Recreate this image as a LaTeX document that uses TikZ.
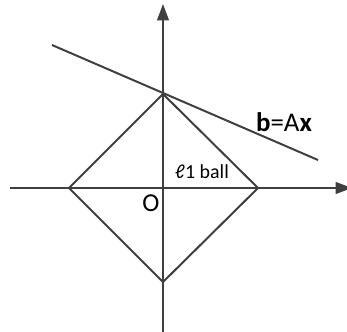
\documentclass[tikz,border=0pt]{standalone}
\usepackage{fontspec}
\setmainfont{Carlito}
\usetikzlibrary{arrows.meta}
\definecolor{LineGray}{HTML}{3F3F3F}

\begin{document}
\begin{tikzpicture}[
    x=0.03cm, y=-0.03cm,
    axis/.style={draw=LineGray,line width=1.7pt,-{Triangle[length=14pt,width=10pt]}},
    edge/.style={draw=LineGray,line width=1.7pt},
    txt/.style={inner sep=0pt,text=black,font=\fontsize{17}{20}\selectfont}
]
  \useasboundingbox (0,0) rectangle (347,331);
  % axes
  \coordinate (o) at (163,188);
  \coordinate (xl) at (10,188);
  \coordinate (xr) at (352,188);
  \coordinate (yb) at (163,335);
  \coordinate (yt) at (163,4);
  \draw[axis] (xl) -- (xr);
  \draw[axis] (yb) -- (yt);

  % l1 ball
  \coordinate (top) at (163,94);
  \coordinate (right) at (258,188);
  \coordinate (bottom) at (163,282);
  \coordinate (left) at (69,188);
  \draw[edge] (top) -- (right) -- (bottom) -- (left) -- cycle;

  % constraint line
  \coordinate (ls) at (52,45);
  \coordinate (le) at (318,160);
  \draw[edge] (ls) -- (le);

  \node[txt, font=\fontsize{23}{26}\selectfont] (eq) at (284,122) {\textbf{b}=A\textbf{x}};
  \node[txt] (ball) at (202,172) {ℓ1 ball};
  \node[txt, font=\fontsize{22}{25}\selectfont] (orig) at (151,203) {O};
\end{tikzpicture}
\end{document}
